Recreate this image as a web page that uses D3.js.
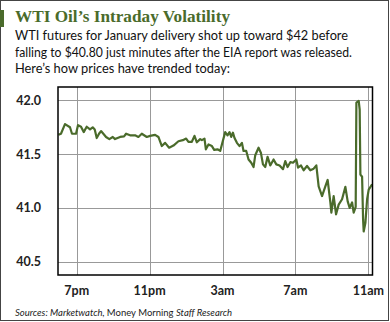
<!DOCTYPE html>
<html>
<head>
<meta charset="utf-8">
<script src="https://cdn.jsdelivr.net/npm/d3@7"></script>
<style>
  html, body { margin: 0; padding: 0; background: #fff; }
  svg { display: block; }
</style>
</head>
<body>
<svg id="chart" width="390" height="322"></svg>
<script>
// ---- Data ----
const titleText = "WTI Oil\u2019s Intraday Volatility";
const subtitleLines = [
  "WTI futures for January delivery shot up toward $42 before",
  "falling to $40.80 just minutes after the EIA report was released.",
  "Here\u2019s how prices have trended today:"
];
const yTicks = [40.5, 41.0, 41.5, 42.0];
const xTickLabels = ["7pm", "11pm", "3am", "7am", "11am"];
const xTickHours = [1, 5, 9, 13, 17]; // hours after 6pm
// hours after 6pm
const hoursAfter6pm = [
  0.00, 0.137, 0.357, 0.632, 0.742, 0.962, 1.071, 1.236, 1.385, 1.549,
  1.731, 1.879, 1.989, 2.099, 2.225, 2.335, 2.462, 2.610, 2.791, 2.978,
  3.104, 3.380, 3.599, 3.709, 3.929, 4.203, 4.385, 4.571, 4.846, 5.027,
  5.302, 5.484, 5.670, 5.852, 6.071, 6.308, 6.582, 6.824, 7.005, 7.132,
  7.319, 7.462, 7.593, 7.775, 7.868, 8.011, 8.088, 8.231, 8.418, 8.544,
  8.725, 8.874, 8.967, 9.148, 9.275, 9.385, 9.478, 9.571, 9.659, 9.791,
  9.934, 10.066, 10.154, 10.302, 10.429, 10.577, 10.703, 10.797, 10.978, 11.110,
  11.220, 11.346, 11.473, 11.621, 11.802, 11.951, 12.132, 12.319, 12.445, 12.571,
  12.720, 12.868, 13.049, 13.143, 13.308, 13.451, 13.637, 13.819, 14.000, 14.148,
  14.275, 14.462, 14.643, 14.769, 14.918, 14.973, 15.099, 15.231, 15.374, 15.560,
  15.742, 15.868, 15.978, 16.110, 16.198, 16.308, 16.346, 16.473, 16.527, 16.566,
  16.659, 16.714, 16.747, 16.841, 16.934, 17.022, 17.209
];
const prices = [
  41.68, 41.69, 41.78, 41.75, 41.69, 41.69, 41.77, 41.755, 41.705, 41.755,
  41.73, 41.75, 41.73, 41.65, 41.69, 41.715, 41.69, 41.66, 41.64, 41.66,
  41.64, 41.66, 41.665, 41.69, 41.675, 41.675, 41.66, 41.69, 41.66, 41.67,
  41.68, 41.66, 41.575, 41.605, 41.56, 41.58, 41.62, 41.63, 41.645, 41.615,
  41.615, 41.67, 41.61, 41.64, 41.63, 41.645, 41.545, 41.59, 41.575, 41.54,
  41.545, 41.53, 41.59, 41.705, 41.675, 41.705, 41.66, 41.70, 41.65, 41.605,
  41.575, 41.605, 41.53, 41.53, 41.45, 41.42, 41.38, 41.49, 41.56, 41.51,
  41.405, 41.38, 41.475, 41.395, 41.45, 41.405, 41.395, 41.36, 41.435, 41.38,
  41.425, 41.42, 41.45, 41.375, 41.395, 41.35, 41.39, 41.35, 41.365, 41.395,
  41.20, 41.11, 41.20, 41.26, 41.05, 40.955, 41.11, 40.94, 41.03, 41.08,
  41.195, 41.06, 41.00, 41.05, 40.955, 41.01, 41.98, 41.995, 41.915, 41.31,
  41.29, 40.89, 40.78, 40.86, 41.08, 41.17, 41.22
];

// ---- Layout ----
const svg = d3.select("#chart");
const W = 390, H = 322;
const plot = { left: 58, top: 87, right: 372.5, bottom: 275 };
const green = "#4a6b2b";
const base = new Date(2015, 11, 8, 18, 0, 0);
const toDate = h => new Date(base.getTime() + h * 3600e3);

const x = d3.scaleTime()
  .domain([toDate(-0.026), toDate(17.23)])
  .range([plot.left, plot.right]);
const y = d3.scaleLinear()
  .domain([40.375, 42.125])
  .range([plot.bottom, plot.top]);

// outer border
svg.append("rect")
  .attr("x", 0.5).attr("y", 0.5)
  .attr("width", W - 2).attr("height", H - 2)
  .attr("fill", "none").attr("stroke", "#444").attr("stroke-width", 1);
// green accent bar
svg.append("rect")
  .attr("x", 0).attr("y", 10).attr("width", 4).attr("height", 17)
  .attr("fill", green);

// title
svg.append("text")
  .attr("x", 15).attr("y", 21.5)
  .attr("font-family", "'Liberation Serif', 'DejaVu Serif', serif")
  .attr("font-weight", "bold")
  .attr("font-size", 16)
  .attr("fill", green)
  .attr("textLength", 215).attr("lengthAdjust", "spacingAndGlyphs")
  .text(titleText);

// subtitle
const subBase = [40, 56.5, 72.5];
const subLen = [333, 337, 215];
subtitleLines.forEach((t, i) => {
  svg.append("text")
    .attr("x", 15).attr("y", subBase[i])
    .attr("font-family", "Lato, 'Noto Sans', sans-serif")
    .attr("font-size", 13.5)
    .attr("fill", "#111")
    .attr("textLength", subLen[i]).attr("lengthAdjust", "spacingAndGlyphs")
    .text(t);
});

// gridlines
const grid = svg.append("g").attr("stroke", "#999").attr("stroke-width", 1);
grid.selectAll("line.h").data(yTicks).join("line")
  .attr("class", "h")
  .attr("x1", plot.left).attr("x2", plot.right)
  .attr("y1", d => Math.round(y(d)) + 0.5).attr("y2", d => Math.round(y(d)) + 0.5);
grid.selectAll("line.v").data(xTickHours).join("line")
  .attr("class", "v")
  .attr("y1", plot.top).attr("y2", plot.bottom)
  .attr("x1", d => Math.round(x(toDate(d))) + 0.5).attr("x2", d => Math.round(x(toDate(d))) + 0.5);

// line
const data = hoursAfter6pm.map((h, i) => ({ t: toDate(h), v: prices[i] }));
svg.append("path")
  .datum(data)
  .attr("fill", "none")
  .attr("stroke", green)
  .attr("stroke-width", 2.2)
  .attr("stroke-linejoin", "round")
  .attr("d", d3.line().x(d => x(d.t)).y(d => y(d.v)));

// frame
svg.append("rect")
  .attr("x", plot.left).attr("y", plot.top)
  .attr("width", plot.right - plot.left).attr("height", plot.bottom - plot.top)
  .attr("fill", "none").attr("stroke", "#000").attr("stroke-width", 1.5);

// y labels
svg.selectAll("text.yl").data(yTicks).join("text")
  .attr("class", "yl")
  .attr("x", 41).attr("y", d => y(d))
  .attr("dy", "0.36em")
  .attr("text-anchor", "end")
  .attr("font-family", "Lato, 'Noto Sans', sans-serif")
  .attr("font-weight", "bold")
  .attr("font-size", 12.5)
  .attr("fill", "#222")
  .text(d => d3.format(".1f")(d));

// x labels
svg.selectAll("text.xl").data(xTickHours).join("text")
  .attr("class", "xl")
  .attr("x", d => x(toDate(d))).attr("y", 295)
  .attr("text-anchor", "middle")
  .attr("font-family", "Lato, 'Noto Sans', sans-serif")
  .attr("font-weight", "bold")
  .attr("font-size", 12.5)
  .attr("fill", "#222")
  .text((d, i) => xTickLabels[i]);

// source
const src = svg.append("text")
  .attr("x", 15).attr("y", 316)
  .attr("font-family", "Lato, 'Noto Sans', sans-serif")
  .attr("font-size", 9.5)
  .attr("fill", "#222");
src.append("tspan").attr("font-style", "italic").text("Sources: Marketwatch, ");
src.append("tspan").text("Money Morning ");
src.append("tspan").attr("font-style", "italic").text("Staff Research");
</script>
</body>
</html>
